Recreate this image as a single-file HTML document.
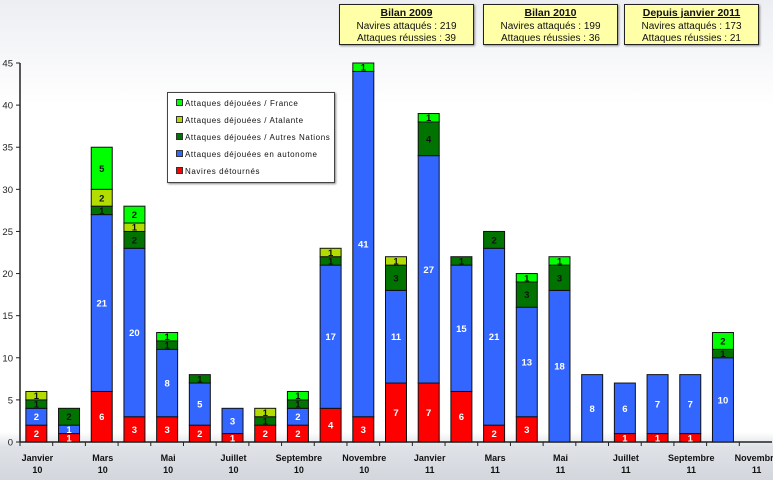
<!DOCTYPE html>
<html><head><meta charset="utf-8"><style>
body{margin:0;width:773px;height:480px;overflow:hidden;font-family:"Liberation Sans",sans-serif;}
.box{position:absolute;top:4px;height:41px;background:#ffffa8;border:1px solid #222;box-shadow:1px 1px 2px #888;text-align:center;font-size:10px;line-height:12.5px;color:#111;padding-top:2px;box-sizing:border-box}
.box b{text-decoration:underline;font-size:10.5px}
</style></head><body>
<svg id="chart" width="773" height="480" style="position:absolute;left:0;top:0">
<defs><linearGradient id="bg" x1="0" y1="0" x2="0" y2="1">
<stop offset="0" stop-color="#eceef2"/><stop offset="0.22" stop-color="#ffffff"/><stop offset="0.9" stop-color="#ffffff"/><stop offset="0.93" stop-color="#dfe2e7"/><stop offset="1" stop-color="#d3d7dd"/></linearGradient></defs>
<rect width="773" height="480" fill="url(#bg)"/>
<g id="plot"></g>
</svg>
<div class="box" style="left:339px;width:135px"><b>Bilan 2009</b><br>Navires attaqués : 219<br>Attaques réussies : 39</div>
<div class="box" style="left:483px;width:135px"><b>Bilan 2010</b><br>Navires attaqués : 199<br>Attaques réussies : 36</div>
<div class="box" style="left:624px;width:135px"><b>Depuis janvier 2011</b><br>Navires attaqués : 173<br>Attaques réussies : 21</div>
<div style="position:absolute;left:167px;top:92px;width:166px;height:89px;background:#fff;border:1px solid #444;box-shadow:1px 1px 2px #888;font-size:8px;letter-spacing:0.6px;color:#111">
<div style="position:absolute;left:8px;top:6px"><span style="display:inline-block;width:5px;height:5px;background:#00ff00;border:1px solid #333;margin-right:2px"></span>Attaques déjouées / France</div>
<div style="position:absolute;left:8px;top:23px"><span style="display:inline-block;width:5px;height:5px;background:#b3dd00;border:1px solid #333;margin-right:2px"></span>Attaques déjouées / Atalante</div>
<div style="position:absolute;left:8px;top:40px"><span style="display:inline-block;width:5px;height:5px;background:#007300;border:1px solid #333;margin-right:2px"></span>Attaques déjouées / Autres Nations</div>
<div style="position:absolute;left:8px;top:57px"><span style="display:inline-block;width:5px;height:5px;background:#3366ff;border:1px solid #333;margin-right:2px"></span>Attaques déjouées en autonome</div>
<div style="position:absolute;left:8px;top:74px"><span style="display:inline-block;width:5px;height:5px;background:#ff0000;border:1px solid #333;margin-right:2px"></span>Navires détournés</div>
</div>
<script>
const categories=["Janvier 10","Février 10","Mars 10","Avril 10","Mai 10","Juin 10","Juillet 10","Août 10","Septembre 10","Octobre 10","Novembre 10","Décembre 10","Janvier 11","Février 11","Mars 11","Avril 11","Mai 11","Juin 11","Juillet 11","Août 11","Septembre 11","Octobre 11","Novembre 11"];
const detournes=[2,1,6,3,3,2,1,2,2,4,3,7,7,6,2,3,0,0,1,1,1,0,0];
const autonome=[2,1,21,20,8,5,3,0,2,17,41,11,27,15,21,13,18,8,6,7,7,10,0];
const autres=[1,2,1,2,1,1,0,1,1,1,0,3,4,1,2,3,3,0,0,0,0,1,0];
const atalante=[1,0,2,1,0,0,0,1,0,1,0,1,0,0,0,0,0,0,0,0,0,0,0];
const france=[0,0,5,2,1,0,0,0,1,0,1,0,1,0,0,1,1,0,0,0,0,2,0];
const yTicks=[0,5,10,15,20,25,30,35,40,45];
const series=[{n:"detournes",v:detournes,c:"#ff0000",t:"#fff"},{n:"autonome",v:autonome,c:"#3366ff",t:"#fff"},{n:"autres",v:autres,c:"#007300",t:"#111"},{n:"atalante",v:atalante,c:"#b3dd00",t:"#111"},{n:"france",v:france,c:"#00ff00",t:"#111"}];
const X0=20,X1=772,Y0=442,Y1=63,YMAX=45;
const bw=(X1-X0)/categories.length;
const y=v=>Y0-(v/YMAX)*(Y0-Y1);
const xc=i=>X0+bw*(i+0.5);
const NS="http://www.w3.org/2000/svg";
const g=document.getElementById("plot");
function mk(t,a){const e=document.createElementNS(NS,t);for(const k in a)e.setAttribute(k,a[k]);g.appendChild(e);return e;}
let ax=mk("line",{x1:X0,y1:Y1,x2:X0,y2:Y0,stroke:"#222","stroke-width":1.5});


let bx=mk("line",{x1:X0,y1:Y0,x2:X1,y2:Y0,stroke:"#222","stroke-width":1.5});


yTicks.forEach(t=>{
  mk("line",{x1:X0-4,x2:X0,y1:y(t),y2:y(t),stroke:"#222"});
  const l=mk("text",{x:X0-7,y:y(t)+3.5,"text-anchor":"end","font-size":9.5,fill:"#222"});
  l.textContent=t;
  
  
});
categories.forEach((c,i)=>{
  mk("line",{x1:X0+bw*i,x2:X0+bw*i,y1:Y0,y2:Y0+4,stroke:"#222"});
  if(i%2===0){
    const p=c.split(" ");
    const a=mk("text",{x:xc(i)+1,y:461,"text-anchor":"middle","font-size":9,"font-weight":"bold",fill:"#111"});
    a.textContent=p[0];
    
    
    const b=mk("text",{x:xc(i)+1,y:473,"text-anchor":"middle","font-size":9,"font-weight":"bold",fill:"#111"});
    b.textContent=p[1];
    
    
  }
  let base=0;
  series.forEach(s=>{
    const v=s.v[i];
    if(v>0){
      const r=mk("rect",{x:xc(i)-10.5,y:y(base+v),width:21,height:y(base)-y(base+v),fill:s.c,stroke:"#111","stroke-width":1});
      
      
      const t=mk("text",{x:xc(i),y:(y(base)+y(base+v))/2+3.5,"text-anchor":"middle","font-size":9.5,"font-weight":"bold",fill:s.t});
      t.textContent=v;
      
      
    }
    base+=v;
  });
});
</script>
</body></html>
